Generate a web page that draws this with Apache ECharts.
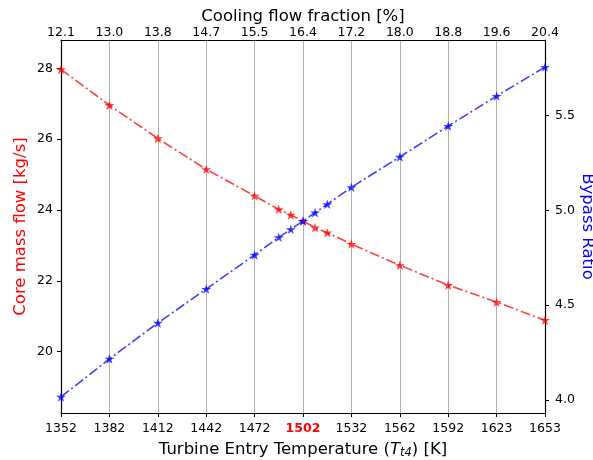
<!DOCTYPE html>
<html>
<head>
<meta charset="utf-8">
<script src="https://cdn.jsdelivr.net/npm/echarts@6/dist/echarts.min.js"></script>
<style>html,body{margin:0;padding:0;background:#fff;}#c{width:593px;height:460px;}</style>
</head>
<body>
<div id="c"></div>
<script>
// Data
const temperature = [1352, 1382.1, 1412.2, 1442.3, 1472.4, 1487.4, 1494.9, 1502.5, 1510.0, 1517.6, 1532.6, 1562.7, 1592.8, 1622.9, 1653];
const coreMassFlow = [27.97, 26.96, 26.02, 25.15, 24.40, 24.02, 23.86, 23.69, 23.50, 23.36, 23.04, 22.44, 21.88, 21.40, 20.89];
const bypassRatio = [4.016, 4.216, 4.406, 4.585, 4.765, 4.858, 4.900, 4.944, 4.988, 5.032, 5.122, 5.282, 5.445, 5.603, 5.756];
const tempTicks = [1352, 1382.1, 1412.2, 1442.3, 1472.4, 1502.5, 1532.6, 1562.7, 1592.8, 1622.9, 1653];
const tempTickLabels = ['1352', '1382', '1412', '1442', '1472', '1502', '1532', '1562', '1592', '1623', '1653'];
const coolingTickLabels = ['12.1', '13.0', '13.8', '14.7', '15.5', '16.4', '17.2', '18.0', '18.8', '19.6', '20.4'];
const designTemp = '1502';
const leftTicks = [20, 22, 24, 26, 28];
const rightTicks = [4.0, 4.5, 5.0, 5.5];

const FONT = 'DejaVu Sans';
const star = 'path://M50 0 L61.23 34.55 L97.55 34.55 L68.17 55.9 L79.39 90.45 L50 69.1 L20.61 90.45 L31.83 55.9 L2.45 34.55 L38.77 34.55 Z';

function labelFor(v, labels) {
  let best = 0, bd = Infinity;
  tempTicks.forEach((t, i) => { const d = Math.abs(t - v); if (d < bd) { bd = d; best = i; } });
  return labels[best];
}

const chart = echarts.init(document.getElementById('c'), null, { renderer: 'canvas' });
const axisLine = { show: true, lineStyle: { color: '#000', width: 1.2 } };
const tick = { show: true, length: 4, lineStyle: { color: '#000', width: 1 } };

chart.setOption({
  animation: false,
  backgroundColor: '#fff',
  grid: { left: 61, right: 48, top: 40, bottom: 47, containLabel: false, outerBoundsMode: 'none' },
  xAxis: [
    {
      type: 'value', position: 'bottom', min: 1352, max: 1653,
      axisLine: axisLine,
      axisTick: Object.assign({ customValues: tempTicks }, tick),
      splitLine: { show: true, lineStyle: { color: '#b0b0b0', width: 1 } },
      axisLabel: {
        customValues: tempTicks, margin: 9, fontFamily: FONT, fontSize: 12.5, color: '#000',
        formatter: v => { const s = labelFor(v, tempTickLabels); return s === designTemp ? '{d|' + s + '}' : s; },
        rich: { d: { color: '#ff0000', fontWeight: 'bold', fontFamily: FONT, fontSize: 12.5 } }
      },
      name: '{a|Turbine Entry Temperature (}{i|T}{s|t4}{a|) [K]}',
      nameLocation: 'middle', nameGap: 26.5, nameMoveOverlap: false,
      nameTextStyle: {
        rich: {
          a: { fontFamily: FONT, fontSize: 16.5, color: '#000' },
          i: { fontFamily: FONT, fontSize: 16.5, fontStyle: 'italic', color: '#000' },
          s: { fontFamily: FONT, fontSize: 11.5, fontStyle: 'italic', color: '#000', padding: [8, 0, 0, 0] }
        }
      }
    },
    {
      type: 'value', position: 'top', min: 1352, max: 1653,
      axisLine: axisLine,
      axisTick: { show: false, customValues: tempTicks },
      splitLine: { show: false },
      axisLabel: {
        customValues: tempTicks, margin: 1, fontFamily: FONT, fontSize: 12.5, color: '#000',
        formatter: v => labelFor(v, coolingTickLabels)
      },
      name: 'Cooling flow fraction [%]', nameLocation: 'middle', nameGap: 14.5, nameMoveOverlap: false,
      nameTextStyle: { fontFamily: FONT, fontSize: 16.5, color: '#000' }
    }
  ],
  yAxis: [
    {
      type: 'value', position: 'left', min: 18.27, max: 28.8,
      axisLine: axisLine,
      axisTick: Object.assign({ customValues: leftTicks }, tick),
      splitLine: { show: false },
      axisLabel: { customValues: leftTicks, margin: 8, fontFamily: FONT, fontSize: 12.5, color: '#000' },
      name: 'Core mass flow [kg/s]', nameLocation: 'middle', nameGap: 32, nameRotate: 90, nameMoveOverlap: false,
      nameTextStyle: { fontFamily: FONT, fontSize: 16.5, color: '#ff0000' }
    },
    {
      type: 'value', position: 'right', min: 3.931, max: 5.899,
      axisLine: axisLine,
      axisTick: Object.assign({ customValues: rightTicks }, tick),
      splitLine: { show: false },
      axisLabel: { customValues: rightTicks, margin: 10, fontFamily: FONT, fontSize: 12.5, color: '#000', formatter: v => v.toFixed(1) },
      name: 'Bypass Ratio', nameLocation: 'middle', nameGap: 34, nameRotate: -90, nameMoveOverlap: false,
      nameTextStyle: { fontFamily: FONT, fontSize: 16.5, color: '#0000ff' }
    }
  ],
  series: [
    {
      type: 'line', xAxisIndex: 0, yAxisIndex: 0,
      data: temperature.map((t, i) => [t, coreMassFlow[i]]),
      symbol: star, symbolSize: 10, symbolKeepAspect: true,
      itemStyle: { color: 'rgba(255,0,0,0.75)' },
      lineStyle: { color: 'rgba(255,0,0,0.75)', width: 1.6, type: [10, 3, 2, 3] },
      z: 2
    },
    {
      type: 'line', xAxisIndex: 0, yAxisIndex: 1,
      data: temperature.map((t, i) => [t, bypassRatio[i]]),
      symbol: star, symbolSize: 10, symbolKeepAspect: true,
      itemStyle: { color: 'rgba(0,0,255,0.75)' },
      lineStyle: { color: 'rgba(0,0,255,0.75)', width: 1.6, type: [10, 3, 2, 3] },
      z: 3
    }
  ]
});
</script>
</body>
</html>
